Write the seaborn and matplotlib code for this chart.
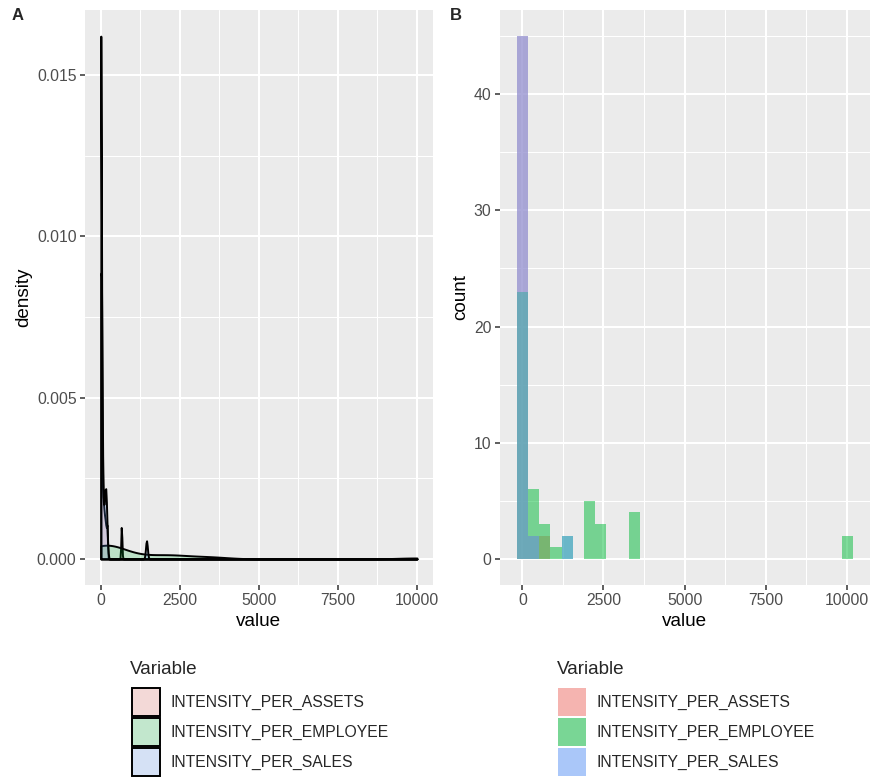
import numpy as np
import pandas as pd
import matplotlib
matplotlib.use("Agg")
import matplotlib.pyplot as plt
import seaborn as sns
from matplotlib.patches import Patch
from matplotlib.ticker import FixedLocator, FixedFormatter
from matplotlib.colors import to_rgb, to_rgba

# ---------------- data ----------------
variables = ["INTENSITY_PER_ASSETS", "INTENSITY_PER_EMPLOYEE", "INTENSITY_PER_SALES"]
colors = ["#F8766D", "#00BA38", "#619CFF"]

assets = [0.3, 0.45, 0.6, 0.7, 0.85, 1.1, 1.2, 1.45, 1.6, 1.8, 2.0, 2.15, 2.4, 2.6, 2.8,
          3.0, 3.25, 3.45, 3.65, 3.95, 4.25, 4.55, 4.8, 5.1, 5.5, 5.85, 6.2, 6.6, 7.05, 7.55, 8.15,
          18, 26, 33, 41, 47, 53, 63, 74, 86, 99, 112, 128, 145, 162,
          190, 198, 648, 655]

employee = [3, 8, 12, 18, 25, 31, 38, 44, 52, 58, 65, 72, 80, 88, 95, 104, 112, 120,
            128, 137, 146, 155, 164,
            205, 260, 320, 380, 430, 490,
            580, 680, 790,
            1050,
            1330, 1480,
            1930, 2010, 2080, 2150, 2210,
            2300, 2420, 2530,
            3320, 3410, 3480, 3560,
            9950, 10010]

sales = [0.5, 0.9, 1.3, 1.7, 2.1, 2.6, 3.0, 3.4, 3.9, 4.3, 4.8, 5.2, 5.7, 6.1, 6.6,
         7.1, 7.6, 8.1, 8.6, 9.1, 9.6, 10.2, 10.8, 11.4, 12.0, 12.6, 13.2, 13.8, 14.4, 15.0,
         22, 31, 43, 56, 68, 80, 97, 110, 122,
         138, 144, 150, 155, 160, 166,
         185, 192, 1440, 1452]

x_ticks = [0, 2500, 5000, 7500, 10000]
x_minor = [1250, 3750, 6250, 8750]
density_ticks = [0.000, 0.005, 0.010, 0.015]
density_minor = [0.0025, 0.0075, 0.0125]
count_ticks = [0, 10, 20, 30, 40]
count_minor = [5, 15, 25, 35, 45]

series = {"INTENSITY_PER_ASSETS": assets,
          "INTENSITY_PER_EMPLOYEE": employee,
          "INTENSITY_PER_SALES": sales}
df = pd.DataFrame({"Variable": np.repeat(variables, [len(series[v]) for v in variables]),
                   "value": np.concatenate([series[v] for v in variables]).astype(float)})

# ---------------- style ----------------
sns.set_theme(style="darkgrid")
plt.rcParams["font.family"] = ["Liberation Sans", "DejaVu Sans"]

TICK_FS = 11.3
TITLE_FS = 13.6
PANEL_BG = "#EBEBEB"
KEY_BG = "#F2F2F2"

fig = plt.figure(figsize=(8.72, 7.78), dpi=100)
fig.patch.set_facecolor("white")
W, H = 872, 778
bottom_px, top_px = 585, 10
axA = fig.add_axes([85 / W, 1 - bottom_px / H, (432.7 - 85) / W, (bottom_px - top_px) / H])
axB = fig.add_axes([500 / W, 1 - bottom_px / H, (869.5 - 500) / W, (bottom_px - top_px) / H])


def style_axis(ax):
    ax.set_facecolor(PANEL_BG)
    for s in ax.spines.values():
        s.set_visible(False)
    ax.set_axisbelow(True)
    ax.grid(which="major", color="white", linewidth=1.5)
    ax.grid(which="minor", color="white", linewidth=0.75)
    ax.tick_params(which="major", length=3.4, width=1.1, color="#333333",
                   labelsize=TICK_FS, labelcolor="#4D4D4D", pad=2.7,
                   bottom=True, left=True)
    ax.tick_params(which="minor", length=0)


def nrd0(x):
    x = np.asarray(x, float)
    q75, q25 = np.percentile(x, [75, 25])
    lo = min(np.std(x, ddof=1), (q75 - q25) / 1.34)
    return 0.9 * lo * len(x) ** -0.2


gmin, gmax = df["value"].min(), df["value"].max()

# ---------------- panel A: densities ----------------
for v, c in zip(variables, colors):
    vals = df.loc[df["Variable"] == v, "value"].to_numpy()
    h = nrd0(vals)
    sns.kdeplot(x=vals, ax=axA, fill=True, bw_method=h / np.std(vals, ddof=1),
                cut=1e6, clip=(gmin, gmax), gridsize=512,
                facecolor=to_rgba(c, 0.2), edgecolor="black", linewidth=1.4)

ymaxA = max(coll.get_paths()[0].vertices[:, 1].max() for coll in axA.collections)
axA.set_ylim(-0.05 * ymaxA, 1.05 * ymaxA)
rngA = gmax - gmin
axA.set_xlim(gmin - 0.05 * rngA, gmax + 0.05 * rngA)
style_axis(axA)
axA.xaxis.set_major_locator(FixedLocator(x_ticks))
axA.xaxis.set_major_formatter(FixedFormatter([str(t) for t in x_ticks]))
axA.xaxis.set_minor_locator(FixedLocator(x_minor))
axA.yaxis.set_major_locator(FixedLocator(density_ticks))
axA.yaxis.set_major_formatter(FixedFormatter([f"{t:.3f}" for t in density_ticks]))
axA.yaxis.set_minor_locator(FixedLocator(density_minor))
axA.set_xlabel("value", fontsize=TITLE_FS, color="black", labelpad=3)
axA.set_ylabel("density", fontsize=TITLE_FS, color="black", labelpad=3)

# ---------------- panel B: histograms ----------------
binw = (gmax - gmin) / 29
edges = binw / 2 + binw * np.arange(-1, 30)
for v, c in zip(variables, colors):
    vals = df.loc[df["Variable"] == v, "value"].to_numpy()
    sns.histplot(x=vals, ax=axB, bins=edges, color=c, alpha=0.5,
                 edgecolor="none", linewidth=0)

ymaxB = max(p.get_height() for p in axB.patches)
axB.set_ylim(-0.05 * ymaxB, 1.05 * ymaxB)
rngB = edges[-1] - edges[0]
axB.set_xlim(edges[0] - 0.05 * rngB, edges[-1] + 0.05 * rngB)
style_axis(axB)
axB.xaxis.set_major_locator(FixedLocator(x_ticks))
axB.xaxis.set_major_formatter(FixedFormatter([str(t) for t in x_ticks]))
axB.xaxis.set_minor_locator(FixedLocator(x_minor))
axB.yaxis.set_major_locator(FixedLocator(count_ticks))
axB.yaxis.set_major_formatter(FixedFormatter([str(t) for t in count_ticks]))
axB.yaxis.set_minor_locator(FixedLocator(count_minor))
axB.set_xlabel("value", fontsize=TITLE_FS, color="black", labelpad=3)
axB.set_ylabel("count", fontsize=TITLE_FS, color="black", labelpad=3)

# ---------------- legends ----------------
kb = np.array(to_rgb(KEY_BG))


def blend(c, a):
    return tuple(a * np.array(to_rgb(c)) + (1 - a) * kb)


handlesA = [Patch(facecolor=blend(c, 0.2), edgecolor="black", linewidth=1.4, label=v)
            for v, c in zip(variables, colors)]
handlesB = [Patch(facecolor=blend(c, 0.5), edgecolor="none", label=v)
            for v, c in zip(variables, colors)]

fs_px = TICK_FS * 100 / 72
key_px = 28
leg_kw = dict(loc="upper left", frameon=False, fontsize=TICK_FS,
              handlelength=key_px / fs_px,
              handleheight=(key_px / fs_px - 0.245) / 0.65,
              labelspacing=2 / fs_px, handletextpad=10 / fs_px,
              borderpad=0, borderaxespad=0)
fig.legend(handles=handlesA, bbox_to_anchor=(132 / W, 1 - 688 / H), **leg_kw)
fig.legend(handles=handlesB, bbox_to_anchor=(558 / W, 1 - 688 / H), **leg_kw)
fig.text(130 / W, 1 - 670 / H, "Variable", fontsize=TITLE_FS, va="center", ha="left")
fig.text(557 / W, 1 - 670 / H, "Variable", fontsize=TITLE_FS, va="center", ha="left")

# ---------------- panel tags ----------------
fig.text(12 / W, 1 - 8 / H, "A", fontsize=12, fontweight="bold", va="top", ha="left")
fig.text(450 / W, 1 - 8 / H, "B", fontsize=12, fontweight="bold", va="top", ha="left")

fig.savefig("out.png", dpi=100, facecolor="white")
